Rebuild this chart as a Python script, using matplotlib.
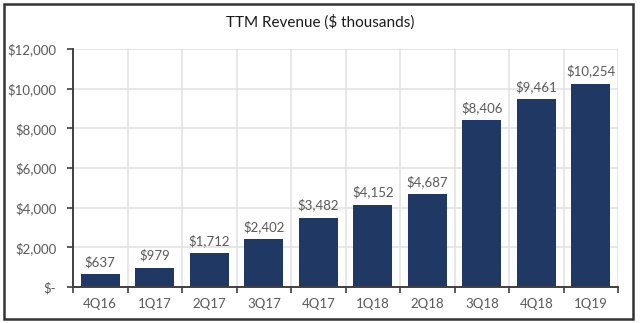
import matplotlib
matplotlib.use("Agg")
import matplotlib.pyplot as plt
from matplotlib.patches import Rectangle
from matplotlib.ticker import FixedLocator

plt.rcParams['font.family'] = ['Lato', 'DejaVu Sans']

quarters = ["4Q16", "1Q17", "2Q17", "3Q17", "4Q17", "1Q18", "2Q18", "3Q18", "4Q18", "1Q19"]
revenue = [637, 979, 1712, 2402, 3482, 4152, 4687, 8406, 9461, 10254]
y_ticks = [0, 2000, 4000, 6000, 8000, 10000, 12000]
y_labels = ["$-", "$2,000", "$4,000", "$6,000", "$8,000", "$10,000", "$12,000"]

bar_color = "#1F3864"
text_gray = "#595959"
grid_gray = "#E3E3E3"
axis_gray = "#404040"

fig = plt.figure(figsize=(6.4, 3.23), dpi=100)
ax = fig.add_axes([73 / 640, 1 - 287 / 323, (618 - 73) / 640, (287 - 49) / 323])

x = list(range(len(quarters)))
ax.bar(x, revenue, width=0.71, color=bar_color, zorder=3)

for xi, v in zip(x, revenue):
    ax.text(xi, v + 320, f"${v:,}", ha="center", va="bottom",
            fontsize=9.5, color=text_gray, zorder=4)

ax.set_xlim(-0.5, len(quarters) - 0.5)
ax.set_ylim(0, 12000)

ax.set_yticks(y_ticks)
ax.set_yticklabels(y_labels)
ax.set_xticks(x)
ax.set_xticklabels(quarters)
ax.xaxis.set_minor_locator(FixedLocator([i - 0.5 for i in range(len(quarters) + 1)]))

ax.tick_params(axis="x", which="major", length=0, pad=8, labelsize=9.5, labelcolor=text_gray)
ax.tick_params(axis="x", which="minor", length=4, width=1.2, color=axis_gray, direction="out")
ax.tick_params(axis="y", which="major", length=4, width=1.2, color=axis_gray, pad=8,
               labelsize=9.5, labelcolor=text_gray)

ax.grid(True, axis="y", which="major", color=grid_gray, linewidth=1.2, zorder=0)
ax.grid(True, axis="x", which="minor", color=grid_gray, linewidth=1.2, zorder=0)
ax.grid(False, axis="x", which="major")

for side in ("top", "right"):
    ax.spines[side].set_visible(False)
for side in ("left", "bottom"):
    ax.spines[side].set_color(axis_gray)
    ax.spines[side].set_linewidth(1.4)
    ax.spines[side].set_zorder(5)

fig.text(0.5, 1 - 22 / 323, "TTM Revenue ($ thousands)", ha="center", va="center",
         fontsize=11, color="#1a1a1a")

# Outer frame around the chart
fig.patches.append(Rectangle((3.5 / 640, 1 - 319 / 323), (633 - 3.5) / 640, (319 - 4) / 323,
                             transform=fig.transFigure, fill=False,
                             edgecolor="#333333", linewidth=1.8))

fig.savefig("out.png", dpi=100)
